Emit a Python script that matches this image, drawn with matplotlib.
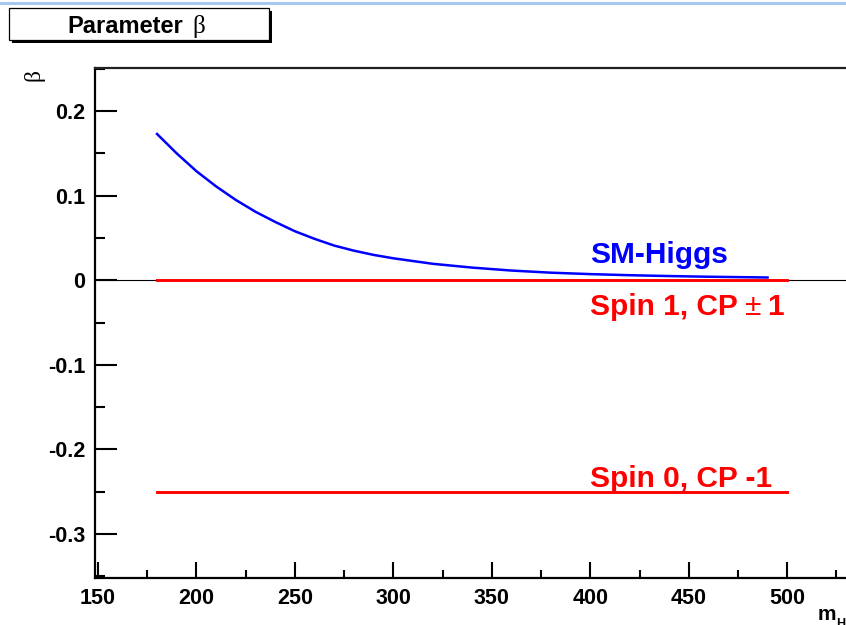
import matplotlib
matplotlib.use("Agg")
import matplotlib.pyplot as plt
from matplotlib.patches import Rectangle
from matplotlib.lines import Line2D
from matplotlib.ticker import MultipleLocator

# ---- data ----
sm_mass = [180, 190, 200, 210, 220, 230, 240, 250, 260, 270, 280, 290, 300,
           320, 340, 360, 380, 400, 420, 440, 460, 480, 490]
sm_beta = [0.173, 0.150, 0.129, 0.111, 0.095, 0.081, 0.069, 0.058, 0.049,
           0.041, 0.035, 0.030, 0.026, 0.0195, 0.015, 0.0115, 0.009, 0.0073,
           0.006, 0.005, 0.0042, 0.0036, 0.0033]
spin1_mass = [180, 500]
spin1_beta = [0.0, 0.0]
spin0_mass = [180, 500]
spin0_beta = [-0.25, -0.25]
x_ticks = [150, 200, 250, 300, 350, 400, 450, 500]
y_ticks = [0.2, 0.1, 0, -0.1, -0.2, -0.3]
y_ticklabels = ["0.2", "0.1", "0", "-0.1", "-0.2", "-0.3"]

W, H = 846, 625
fig = plt.figure(figsize=(W / 100, H / 100), dpi=100)
plt.rcParams['font.family'] = ['Liberation Sans', 'DejaVu Sans']

def fx(px):
    return px / W

def fy(py):
    return 1 - py / H

def dx(px):
    return (px - 196) / 1.97 + 200

ax = fig.add_axes([fx(95), fy(578), fx(866) - fx(95), fy(68) - fy(578)])
ax.set_xlim(148.5, 540)
ax.set_ylim(-0.352, 0.251)

ax.axhline(0, color='black', lw=0.8, zorder=1)
ax.plot(sm_mass, sm_beta, color=(0, 0, 1), lw=1.8, zorder=3)
ax.plot(spin1_mass, spin1_beta, color=(1, 0, 0), lw=2.1, zorder=2)
ax.plot(spin0_mass, spin0_beta, color=(1, 0, 0), lw=2.1, zorder=2)

ax.text(400, 0.021, "SM-Higgs", color=(0, 0, 1), fontsize=21.5, fontweight='bold',
        ha='left', va='baseline')
ax.text(400, -0.041, "Spin 1, CP", color=(1, 0, 0), fontsize=21.5, fontweight='bold',
        ha='left', va='baseline')
ax.text(dx(745), -0.041, "\u00b1", color=(1, 0, 0), fontsize=21.5,
        ha='left', va='baseline')
ax.text(dx(767), -0.041, "1", color=(1, 0, 0), fontsize=21.5, fontweight='bold',
        ha='left', va='baseline')
ax.text(400, -0.2445, "Spin 0, CP -1", color=(1, 0, 0), fontsize=21.5, fontweight='bold',
        ha='left', va='baseline')

ax.spines['right'].set_visible(False)
ax.spines['left'].set_linewidth(1.6)
ax.spines['bottom'].set_linewidth(1.6)
ax.spines['top'].set_linewidth(1.6)
ax.spines['top'].set_color('#222222')

ax.xaxis.set_minor_locator(MultipleLocator(25))
ax.yaxis.set_minor_locator(MultipleLocator(0.05))
ax.set_xticks(x_ticks)
ax.set_xticklabels([str(v) for v in x_ticks])
ax.set_yticks(y_ticks)
ax.set_yticklabels(y_ticklabels)

ax.tick_params(axis='both', which='both', direction='in', top=False, right=False,
               width=1.5, color='black')
ax.tick_params(axis='y', which='major', length=15.8, pad=7, labelsize=15.5)
ax.tick_params(axis='y', which='minor', length=7.5)
ax.tick_params(axis='x', which='major', length=11.5, pad=7.5, labelsize=15.5)
ax.tick_params(axis='x', which='minor', length=6)
for lab in ax.get_xticklabels() + ax.get_yticklabels():
    lab.set_fontweight('bold')

# y label
fig.text(fx(34), fy(75), "\u03b2", rotation=90, fontsize=17,
         family=['Liberation Serif', 'DejaVu Serif'], ha='center', va='center')
# x label (cut at border)
fig.text(fx(818), fy(620), "m", fontsize=15, fontweight='bold', ha='left', va='baseline')
fig.text(fx(836), fy(627), "H", fontsize=9, fontweight='bold', ha='left', va='baseline')

# title box
fig.patches.append(Rectangle((fx(12), fy(43)), fx(272) - fx(12), fy(11) - fy(43),
                             transform=fig.transFigure, facecolor='black',
                             edgecolor='none', zorder=1))
fig.patches.append(Rectangle((fx(9), fy(40)), fx(269) - fx(9), fy(8) - fy(40),
                             transform=fig.transFigure, facecolor='white',
                             edgecolor='black', lw=0.9, zorder=2))
fig.text(fx(67), fy(33), "Parameter", fontsize=17, fontweight='bold',
         ha='left', va='baseline', zorder=3)
fig.text(fx(192), fy(33), "\u03b2", fontsize=18,
         family=['Liberation Serif', 'DejaVu Serif'], ha='left', va='baseline', zorder=3)

# top light blue border
fig.lines.append(Line2D([0, 1], [fy(3), fy(3)], transform=fig.transFigure,
                        color='#a6c8f0', lw=2.2))

fig.savefig("out.png", dpi=100)
